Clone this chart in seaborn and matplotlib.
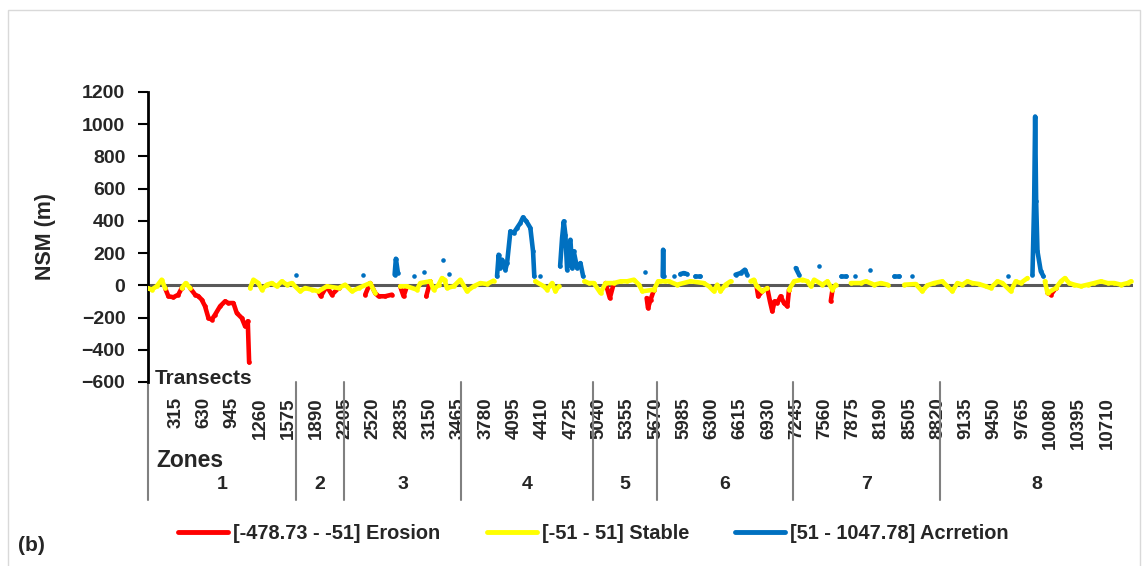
import numpy as np
import pandas as pd
import seaborn as sns
import matplotlib.pyplot as plt
from matplotlib.lines import Line2D
from matplotlib.patches import Rectangle

# NSM values read along the shoreline (transect number -> NSM in m)
transect = [1, 46, 102, 158, 196, 233, 289, 344, 382, 426, 475, 531, 568, 605, 642, 680, 717, 754,
            810, 866, 903, 959, 996, 1052, 1089, 1119, 1134,
            1145, 1182, 1238, 1275, 1331, 1387, 1443, 1499, 1555, 1610, 1659, 1703, 1759, 1834, 1908,
            1934, 2001, 2057, 2132, 2206, 2281, 2355, 2400, 2430, 2485, 2541, 2579, 2653, 2728, 2758,
            2772, 2795, 2820, 2858,
            2895, 2969, 3007, 3044, 3088, 3111, 3156, 3193, 3248, 3286, 3297, 3316, 3342, 3368, 3416,
            3491, 3565, 3640, 3714, 3789, 3863, 3901, 3919, 3938, 3957, 3994, 4013, 4050, 4087, 4124,
            4161, 4191, 4229, 4273, 4303, 4317, 4328, 4384, 4422, 4459, 4515, 4552, 4590, 4605, 4627,
            4646, 4664, 4683, 4720, 4739, 4757, 4795, 4832, 4862, 4877, 4925, 4981, 5056, 5112, 5160,
            5205, 5280, 5354, 5429, 5485, 5522, 5552, 5571, 5586, 5615, 5653, 5698,
            5725, 5750, 5755, 5760, 5780, 5818, 5873, 5910, 5948, 5985, 6022, 6060, 6116, 6171, 6209,
            6265, 6321, 6358, 6395, 6451, 6507, 6563, 6619, 6667, 6693, 6730, 6768, 6798, 6816, 6861,
            6917, 6947, 6973, 6999, 7029, 7066, 7104, 7141, 7160, 7216, 7235, 7272, 7309, 7365, 7403,
            7440, 7496, 7533, 7589, 7626, 7645, 7682, 7738, 7794, 7850, 7895, 7962, 8018, 8059, 8111,
            8186, 8260, 8335, 8391, 8447,
            8536, 8573, 8647, 8703, 8778, 8871, 8927, 8983, 9039, 9095, 9151, 9206, 9281, 9355, 9411,
            9486, 9542, 9605, 9635, 9690, 9746, 9821, 9877, 9896, 9907, 9918, 9933, 9970, 10000, 10015,
            10045, 10082, 10138, 10194, 10239, 10287, 10343, 10418, 10492, 10567, 10641, 10716, 10790,
            10865, 10939, 10976]
nsm = [-17, -27, -6, 35, -17, -68, -74, -58, -17, 14, -17, -58, -68, -89, -130, -203, -213, -182,
       -130, -99, -110, -110, -172, -203, -254, -223, -478.73,
       -17, 35, 14, -27, 4, 14, -6, 25, 4, 14, 66, -37, -17, -27, -37,
       -68, -6, -58, -17, 4, -37, -17, 66, -58, 14, -48, -68, -68, -58, 66,
       165, 76, -6, -68,
       -6, 56, -27, 14, 83, -68, 25, -27, 4, 45, 159, 35, -17, 70, -6,
       35, -37, -6, 14, 8, 29, 56, 190, 107, 159, 97, 138, 335, 325, 356,
       387, 422, 397, 356, 211, 56, 25, 56, -6, -27, 14, -37, -6, 118, 294,
       397, 314, 97, 283, 107, 211, 107, 138, 56, 25, 14, 14, -48, 14, -79,
       14, 25, 25, 35, 4, -37, 83, -79, -141, -89, -27, 25,
       25, 56, 221, 60, 25, 25, 56, 4, 70, 76, 70, 25, 56, 56, 14,
       -6, -37, 4, -37, 4, 25, 66, 76, 97, 66, 25, 35, -6, -68, -37,
       -17, -99, -161, -99, -110, -68, -110, -130, -27, 25, 107, 66, 35, 25, -6,
       35, 118, 4, 25, -99, -27, 4, 56, 56, 14, 56, 14, 25, 97, 4,
       14, 4, 56, 56, 4,
       56, 8, -37, 0, 14, 25, -6, -37, 14, 4, 25, 14, 8, -6, -17,
       25, 14, 56, -37, 25, 14, 45, 66, 521, 1047.78, 521, 211, 87, 56, 25,
       -48, -58, -17, 25, 45, 14, 4, -6, 4, 14, 25, 14, 14,
       4, 14, 25]

zone_edges = [0, 1660, 2195, 3500, 4970, 5690, 7200, 8850, 11000]
zone_names = ["1", "2", "3", "4", "5", "6", "7", "8"]
tick_step = 315
class_labels = ["[-478.73 - -51] Erosion", "[-51 - 51] Stable", "[51 - 1047.78] Acrretion"]
class_colors = ["#FF0000", "#FFFF00", "#0070C0"]

sns.set_style("white")
plt.rcParams["font.family"] = ["Liberation Sans", "DejaVu Sans"]
plt.rcParams["font.weight"] = "bold"

df = pd.DataFrame({"transect": transect, "nsm": nsm})
df["cls"] = np.select([df["nsm"] < -51, df["nsm"] > 51], [0, 2], 1)

fig = plt.figure(figsize=(11.48, 5.66), dpi=100)
ax = fig.add_axes([0.1285, 0.3251, 0.8585, 0.5124])

ax.axhline(0, color="#595959", lw=2.2, zorder=1)

v = df["nsm"].to_numpy()
c = df["cls"].to_numpy()
near = np.abs(np.diff(v)) < 120
line_kw = dict(estimator=None, units="run", legend=False, sort=False, ax=ax, lw=3.3,
               solid_capstyle="round", solid_joinstyle="round",
               marker="o", markersize=3.3, markeredgewidth=0)

# erosion: red runs, joined to close neighbours, drawn under the stable line
m = c == 0
ext = m.copy()
ext[1:] |= m[:-1] & near
ext[:-1] |= m[1:] & near
run = np.cumsum(~ext)
sns.lineplot(data=df[ext].assign(run=run[ext]), x="transect", y="nsm",
             color=class_colors[0], zorder=2, **line_kw)

# stable: yellow line over the stable transects, broken at long gaps
yel = df[c == 1]
yrun = np.concatenate([[0], np.cumsum(np.diff(yel["transect"].to_numpy()) > 160)])
sns.lineplot(data=yel.assign(run=yrun), x="transect", y="nsm",
             color=class_colors[1], zorder=3, **line_kw)

# accretion: blue runs on top
m = c == 2
brun = np.cumsum(~m)
sns.lineplot(data=df[m].assign(run=brun[m]), x="transect", y="nsm",
             color=class_colors[2], zorder=4, **line_kw)

ax.set_xlim(0, 11000)
ax.set_ylim(-600, 1200)
ax.set_yticks(range(-600, 1201, 200))
ax.set_xticks(np.arange(tick_step, 10711, tick_step))
ax.set_xticklabels([str(t) for t in np.arange(tick_step, 10711, tick_step)],
                   rotation=90, fontsize=13.5, fontweight="bold")
ax.tick_params(axis="x", length=0, pad=11)
ax.tick_params(axis="y", length=7, width=1.5, color="black", direction="out",
               labelsize=14, pad=9, left=True)
for lab in ax.get_yticklabels():
    lab.set_fontweight("bold")

for s in ["top", "right", "bottom"]:
    ax.spines[s].set_visible(False)
ax.spines["left"].set_color("black")
ax.spines["left"].set_linewidth(2)

ax.set_xlabel("")
ax.set_ylabel("NSM (m)", fontsize=15.5, fontweight="bold")
ax.yaxis.set_label_coords(-0.093, 0.5)

# zone separators and names under the transect labels
trans = ax.get_xaxis_transform()
for e in zone_edges[:-1]:
    ax.plot([e, e], [0, -0.407], transform=trans, color="#808080", lw=1.5, clip_on=False)
for i, name in enumerate(zone_names):
    mid = (zone_edges[i] + zone_edges[i + 1]) / 2
    ax.text(mid, -0.355, name, transform=trans, ha="center", va="center",
            fontsize=14, fontweight="bold")

fig.text(0.135, 0.3215, "Transects", fontsize=15, fontweight="bold", va="baseline")
fig.text(0.136, 0.1755, "Zones", fontsize=16.5, fontweight="bold", va="baseline")
fig.text(0.016, 0.026, "(b)", fontsize=15, fontweight="bold")

handles = [Line2D([], [], color=col, lw=3.5) for col in class_colors]
fig.legend(handles, class_labels, loc="center", bbox_to_anchor=(0.517, 0.058), ncol=3,
           frameon=False, handlelength=2.5, handletextpad=0.25,
           columnspacing=2.3, prop={"weight": "bold", "size": 14.4})

fig.patches.append(Rectangle((0.007, -0.05), 0.986, 1.032, transform=fig.transFigure,
                             fill=False, edgecolor="#d9d9d9", lw=1))

fig.savefig("out.png", dpi=100)
